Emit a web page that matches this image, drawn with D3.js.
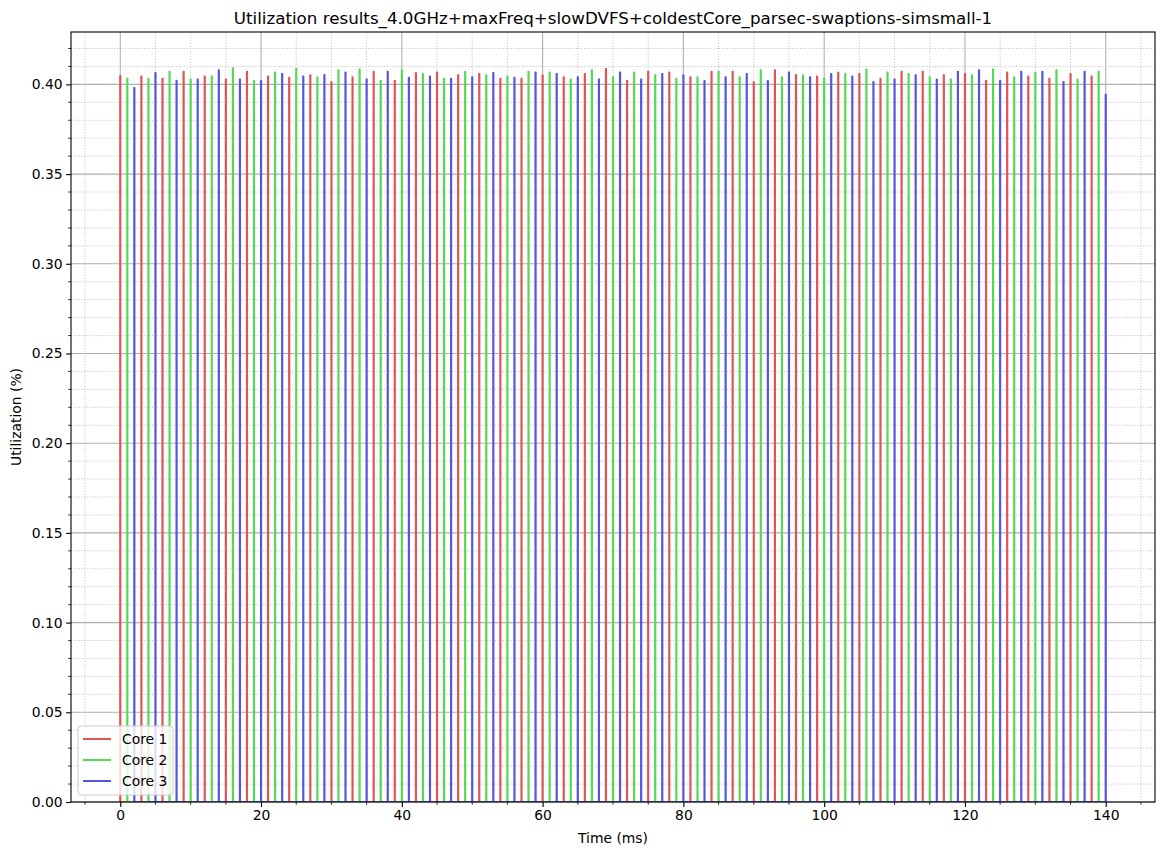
<!DOCTYPE html>
<html>
<head>
<meta charset="utf-8">
<script src="https://cdn.jsdelivr.net/npm/d3@7"></script>
<style>
  body { margin: 0; background: #fff; }
  svg { display: block; font-family: "DejaVu Sans", sans-serif; }
</style>
</head>
<body>
<svg id="chart" width="1168" height="855"></svg>
<script>
// ---------------- DATA ----------------
const titleText = "Utilization results_4.0GHz+maxFreq+slowDVFS+coldestCore_parsec-swaptions-simsmall-1";
const seriesNames = ["Core 1", "Core 2", "Core 3"];
const seriesColors = ["#df5555", "#55d955", "#5555df"];
// peak times (ms) of each core's utilization spikes
const core1Times = d3.range(0, 139, 3);
const core2Times = d3.range(1, 140, 3);
const core3Times = d3.range(2, 141, 3);
// peak utilization of each spike
const core1Peaks = [0.4048,0.4045,0.4033,0.4072,0.4046,0.4028,0.4072,0.4046,0.4039,0.4052,0.4013,0.4041,0.4072,0.4022,0.4065,0.4067,0.4052,0.4059,0.4033,0.4033,0.4052,0.4041,0.4059,0.4087,0.4022,0.4072,0.4067,0.4041,0.4072,0.4072,0.4013,0.4080,0.4054,0.4046,0.4067,0.4059,0.4033,0.4072,0.4072,0.4052,0.4059,0.4022,0.4067,0.4046,0.4033,0.4059,0.4046];
const core2Peaks = [0.4033,0.4033,0.4072,0.4028,0.4045,0.4091,0.4020,0.4067,0.4087,0.4041,0.4080,0.4085,0.4020,0.4080,0.4059,0.4033,0.4072,0.4052,0.4046,0.4072,0.4067,0.4028,0.4080,0.4041,0.4067,0.4052,0.4033,0.4041,0.4072,0.4041,0.4080,0.4041,0.4052,0.4033,0.4059,0.4085,0.4067,0.4059,0.4041,0.4028,0.4052,0.4085,0.4041,0.4067,0.4080,0.4028,0.4072];
const core3Peaks = [0.3981,0.4065,0.4022,0.4028,0.4080,0.4028,0.4020,0.4059,0.4046,0.4054,0.4067,0.4028,0.4072,0.4039,0.4046,0.4033,0.4041,0.4065,0.4039,0.4067,0.4059,0.4041,0.4028,0.4067,0.4028,0.4059,0.4052,0.4020,0.4041,0.4059,0.4020,0.4067,0.4041,0.4059,0.4046,0.4015,0.4028,0.4052,0.4028,0.4072,0.4080,0.4022,0.4072,0.4072,0.4015,0.4072,0.3944];
const xMajorTicks = [0, 20, 40, 60, 80, 100, 120, 140];
const yMajorTicks = [0, 0.05, 0.10, 0.15, 0.20, 0.25, 0.30, 0.35, 0.40];
const xDomain = [-7, 147];
const yDomain = [0, 0.4292];

// ---------------- LAYOUT ----------------
const svg = d3.select("#chart");
const W = 1168, H = 855;
const m = { left: 71, right: 13, top: 32, bottom: 53 };
const iw = W - m.left - m.right, ih = H - m.top - m.bottom;

const x = d3.scaleLinear().domain(xDomain).range([0, iw]);
const y = d3.scaleLinear().domain(yDomain).range([ih, 0]);

const g = svg.append("g").attr("transform", `translate(${m.left},${m.top})`);

svg.append("defs").append("clipPath").attr("id", "plotclip")
  .append("rect").attr("width", iw).attr("height", ih);

// minor grid
const xMinor = d3.range(-5, 146, 5).filter(v => !xMajorTicks.includes(v));
const yMinor = d3.range(0.01, 0.4292, 0.01).map(v => +v.toFixed(2)).filter(v => Math.round(v * 100) % 5 !== 0);

const gridG = g.append("g");
gridG.selectAll(".xminor").data(xMinor).join("line")
  .attr("x1", d => x(d)).attr("x2", d => x(d)).attr("y1", 0).attr("y2", ih)
  .attr("stroke", "#b0b0b0").attr("stroke-width", 0.8).attr("stroke-dasharray", "1,1.7");
gridG.selectAll(".yminor").data(yMinor).join("line")
  .attr("y1", d => y(d)).attr("y2", d => y(d)).attr("x1", 0).attr("x2", iw)
  .attr("stroke", "#b0b0b0").attr("stroke-width", 0.8).attr("stroke-dasharray", "1,1.7");
// major grid
gridG.selectAll(".xmajor").data(xMajorTicks).join("line")
  .attr("x1", d => x(d)).attr("x2", d => x(d)).attr("y1", 0).attr("y2", ih)
  .attr("stroke", "#b0b0b0").attr("stroke-width", 1.1);
gridG.selectAll(".ymajor").data(yMajorTicks).join("line")
  .attr("y1", d => y(d)).attr("y2", d => y(d)).attr("x1", 0).attr("x2", iw)
  .attr("stroke", "#b0b0b0").attr("stroke-width", 1.1);

// series
function spikePoints(times, peaks) {
  const h = 0.05;
  const pts = [];
  times.forEach((t, i) => {
    pts.push([t - h, 0], [t - h, peaks[i]], [t + h, peaks[i]], [t + h, 0]);
  });
  return pts;
}
const allSeries = [
  spikePoints(core1Times, core1Peaks),
  spikePoints(core2Times, core2Peaks),
  spikePoints(core3Times, core3Peaks)
];
const line = d3.line().x(d => x(d[0])).y(d => y(d[1]));
const lineG = g.append("g").attr("clip-path", "url(#plotclip)");
allSeries.forEach((pts, i) => {
  lineG.append("path").datum(pts).attr("d", line)
    .attr("fill", "none").attr("stroke", seriesColors[i])
    .attr("stroke-width", 1.5).attr("stroke-linejoin", "round");
});

// axes
const xAxis = d3.axisBottom(x).tickValues(xMajorTicks).tickFormat(d3.format("d"))
  .tickSizeInner(4.9).tickSizeOuter(0).tickPadding(3.5);
const yAxis = d3.axisLeft(y).tickValues(yMajorTicks).tickFormat(d3.format(".2f"))
  .tickSizeInner(4.9).tickSizeOuter(0).tickPadding(3.5);

const xg = g.append("g").attr("transform", `translate(0,${ih})`).call(xAxis);
const yg = g.append("g").call(yAxis);
[xg, yg].forEach(a => {
  a.select(".domain").remove();
  a.selectAll("line").attr("stroke", "#000").attr("stroke-width", 1.1);
  a.selectAll("text").attr("font-family", "DejaVu Sans").attr("font-size", "13.9px").attr("fill", "#000");
});
// minor ticks
g.append("g").selectAll("line").data(xMinor).join("line")
  .attr("x1", d => x(d)).attr("x2", d => x(d)).attr("y1", ih).attr("y2", ih + 2.8)
  .attr("stroke", "#000").attr("stroke-width", 0.8);
g.append("g").selectAll("line").data(yMinor).join("line")
  .attr("y1", d => y(d)).attr("y2", d => y(d)).attr("x1", 0).attr("x2", -2.8)
  .attr("stroke", "#000").attr("stroke-width", 0.8);

// spines
g.append("rect").attr("x", 0).attr("y", 0).attr("width", iw).attr("height", ih)
  .attr("fill", "none").attr("stroke", "#000").attr("stroke-width", 1.1);

// title and labels
svg.append("text").attr("x", m.left + iw / 2).attr("y", 24)
  .attr("text-anchor", "middle").attr("font-size", "16.7px").text(titleText);
svg.append("text").attr("x", m.left + iw / 2).attr("y", 843)
  .attr("text-anchor", "middle").attr("font-size", "13.9px").text("Time (ms)");
svg.append("text").attr("transform", `translate(21,${m.top + ih / 2}) rotate(-90)`)
  .attr("text-anchor", "middle").attr("font-size", "13.9px").text("Utilization (%)");

// legend
const lg = g.append("g").attr("transform", `translate(7,${ih - 76})`);
lg.append("rect").attr("x", 0).attr("y", 0).attr("width", 95).attr("height", 69)
  .attr("rx", 3).attr("fill", "#fff").attr("fill-opacity", 0.8)
  .attr("stroke", "#cccccc").attr("stroke-width", 1);
seriesNames.forEach((name, i) => {
  const yy = 13 + i * 21;
  lg.append("line").attr("x1", 5).attr("x2", 33).attr("y1", yy).attr("y2", yy)
    .attr("stroke", seriesColors[i]).attr("stroke-width", 2);
  lg.append("text").attr("x", 44).attr("y", yy).attr("dy", "0.35em")
    .attr("font-size", "13.9px").text(name);
});
</script>
</body>
</html>
